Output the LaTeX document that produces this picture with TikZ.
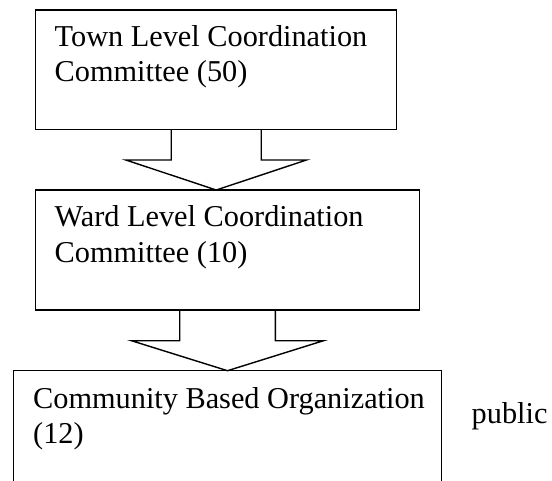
\documentclass[tikz,border=0pt]{standalone}
\usepackage{fontspec}
\setmainfont{Liberation Serif}
\usetikzlibrary{calc}

\tikzset{
  box/.style={draw, line width=1.4pt, rectangle, inner sep=0pt, outer sep=0pt, anchor=north west},
  label/.style={anchor=base west, inner sep=0pt, font=\fontsize{30.3}{35}\selectfont},
  blockarrow/.style={draw, line width=1.4pt, line join=miter}
}

\begin{document}
\begin{tikzpicture}[x=1pt, y=-1pt]
  \useasboundingbox (0,0) rectangle (552,480);
  \clip (0,0) rectangle (552,480);

  % the three committees
  \node[box, minimum width=361pt, minimum height=119.3pt] (town) at (35.7,10) {};
  \node[box, minimum width=383.6pt, minimum height=120pt] (ward) at (35.7,190) {};
  \node[box, minimum width=428.4pt, minimum height=140pt] (cbo) at (13.3,370.7) {};

  \node[label] (town1) at (54.5,46.7) {Town Level Coordination};
  \node[label] (town2) at (54.5,81.7) {Committee (50)};
  \node[label] (ward1) at (54.5,226.3) {Ward Level Coordination};
  \node[label] (ward2) at (54.5,262.3) {Committee (10)};
  \node[label] (cbo1) at (33,408) {Community Based Organization};
  \node[label] (cbo2) at (33,443.5) {(12)};
  \node[label] (pub) at (471.5,423.3) {public};

  % block arrows between the levels
  \draw[blockarrow]
    ($(town.south)+(-45,0)$) -- ++(0,30.7) -- ++(-45.3,0)
    -- (town.south |- ward.north)
    -- ($(town.south)+(90.3,30.7)$) -- ++(-45.3,0) -- ($(town.south)+(45,0)$);
  \draw[blockarrow]
    ($(ward.south)+(-47.8,0)$) -- ++(0,30.7) -- ++(-48.2,0)
    -- (ward.south |- cbo.north)
    -- ($(ward.south)+(96,30.7)$) -- ++(-48.2,0) -- ($(ward.south)+(47.8,0)$);
\end{tikzpicture}
\end{document}
